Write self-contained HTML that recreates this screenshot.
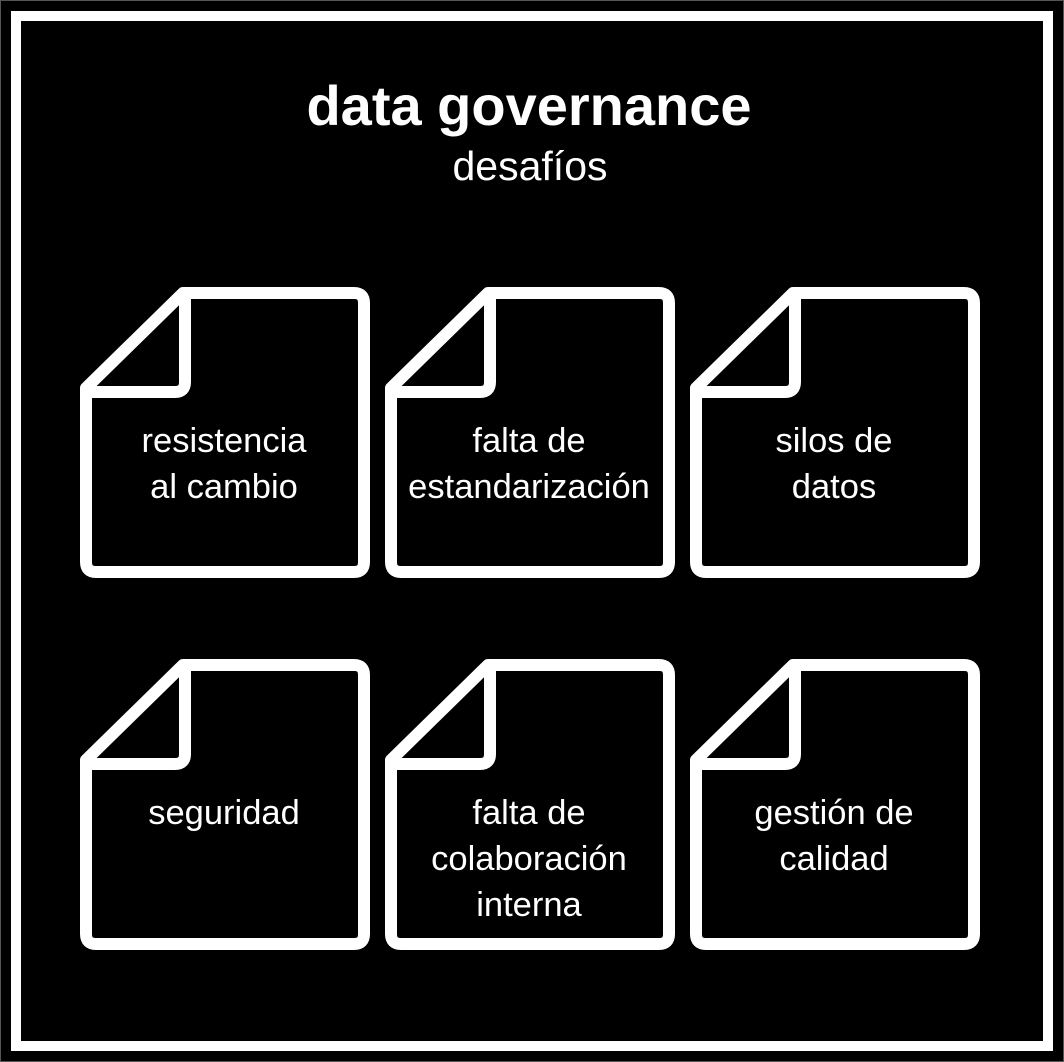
<!DOCTYPE html>
<html><head><meta charset="utf-8"><style>
html,body{margin:0;padding:0;background:#000;}
svg{display:block}
text{font-family:"Liberation Sans",sans-serif;fill:#fff;text-anchor:middle}
</style></head><body>
<svg width="1064" height="1062" viewBox="0 0 1064 1062">
<rect x="0" y="0" width="1064" height="1062" fill="#000"/>
<rect x="0.5" y="0.5" width="1063" height="1061" fill="none" stroke="#555" stroke-width="1"/>
<rect x="16" y="16" width="1032" height="1030" fill="none" stroke="#fff" stroke-width="10"/>
<text x="529" y="125" font-size="56" font-weight="bold">data governance</text>
<text x="530" y="180" font-size="41">desafíos</text>
<defs>
<g id="doc">
<path d="M86,388 L183,293 L354,293 Q364,293 364,303 L364,562 Q364,572 354,572 L96,572 Q86,572 86,562 Z" fill="none" stroke="#fff" stroke-width="12" stroke-linejoin="round"/>
<path d="M185,293 L185,382 Q185,392 175,392 L86,392" fill="none" stroke="#fff" stroke-width="12" stroke-linejoin="round"/>
</g>
</defs>
<use href="#doc"/>
<use href="#doc" x="305"/>
<use href="#doc" x="610"/>
<use href="#doc" y="372"/>
<use href="#doc" x="305" y="372"/>
<use href="#doc" x="610" y="372"/>
<g font-size="34.5">
<text x="224" y="452">resistencia</text>
<text x="224" y="498">al cambio</text>
<text x="529" y="452">falta de</text>
<text x="529" y="498">estandarización</text>
<text x="834" y="452">silos de</text>
<text x="834" y="498">datos</text>
<text x="224" y="824">seguridad</text>
<text x="529" y="824">falta de</text>
<text x="529" y="870">colaboración</text>
<text x="529" y="916">interna</text>
<text x="834" y="824">gestión de</text>
<text x="834" y="870">calidad</text>
</g>
</svg>
</body></html>
